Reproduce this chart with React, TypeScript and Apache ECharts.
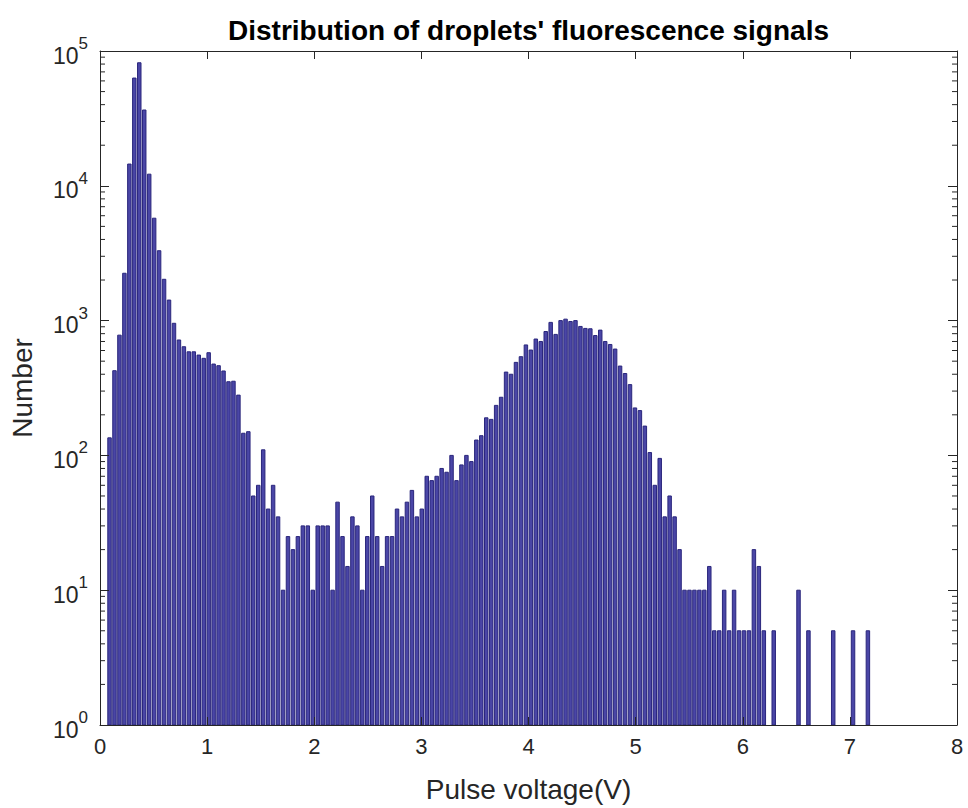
import React, { useEffect, useRef } from 'react';
import * as echarts from 'echarts';

// Histogram bins: center of the first bin and bin width (volts)
const BIN_START = 0.089;
const BIN_WIDTH = 0.04627;

// Counts per bin (154 bins)
const COUNTS = [
  135, 425, 780, 2245, 14500, 63000, 81800, 36500, 12200, 5750,
  3300, 2025, 1420, 955, 718, 640, 587, 587, 555, 525,
  578, 476, 463, 423, 352, 355, 280, 146, 150, 50,
  60, 110, 40, 60, 35, 10, 25, 20, 25, 30,
  30, 10, 30, 30, 30, 10, 45, 25, 15, 35,
  30, 10, 25, 50, 25, 15, 25, 25, 40, 35,
  45, 55, 35, 40, 70, 65, 70, 80, 75, 100,
  65, 85, 100, 90, 130, 140, 190, 185, 235, 270,
  415, 400, 490, 540, 660, 605, 730, 700, 830, 970,
  790, 1000, 1025, 985, 1000, 905, 875, 870, 775, 850,
  700, 665, 615, 460, 405, 335, 225, 215, 165, 105,
  60, 95, 35, 50, 35, 20, 10, 10, 10, 10,
  10, 15, 5, 5, 10, 5, 10, 5, 5, 5,
  20, 15, 5, 0, 5, 0, 0, 0, 0, 10,
  0, 5, 0, 0, 0, 0, 5, 0, 0, 0,
  5, 0, 0, 5,
];

const X_MIN = 0;
const X_MAX = 8;
const X_INTERVAL = 1;
const Y_MIN = 1;
const Y_MAX = 100000;
const DECADES = [1, 10, 100, 1000, 10000];
const MINOR_MULTIPLIERS = [2, 3, 4, 5, 6, 7, 8, 9];

const TITLE = "Distribution of droplets' fluorescence signals";
const X_NAME = 'Pulse voltage(V)';
const Y_NAME = 'Number';

const FONT = '"Liberation Sans", Arial, Helvetica, sans-serif';
const AXIS_COLOR = '#262626';
const BAR_FILL = '#4a46a6';
const BAR_EDGE = '#2a267c';

export default function App() {
  const ref = useRef<HTMLDivElement>(null);

  useEffect(() => {
    if (!ref.current) return;
    const chart = echarts.init(ref.current, undefined, { renderer: 'svg' });

    const barData = COUNTS.map((c, i) => [BIN_START + i * BIN_WIDTH, c]).filter((d) => d[1] > 0);
    const minorData: number[][] = [];
    DECADES.forEach((d) => MINOR_MULTIPLIERS.forEach((m) => minorData.push([X_MIN, d * m])));

    const option: any = {
      animation: false,
      backgroundColor: '#ffffff',
      grid: { left: 100, right: 11, top: 51, bottom: 83, containLabel: false },
      xAxis: [
        {
          type: 'value',
          min: X_MIN,
          max: X_MAX,
          interval: X_INTERVAL,
          z: 5,
          axisLine: { show: true, onZero: false, lineStyle: { color: AXIS_COLOR, width: 1 } },
          axisTick: { show: true, inside: true, length: 8, lineStyle: { color: AXIS_COLOR } },
          splitLine: { show: false },
          axisLabel: { fontSize: 22, color: AXIS_COLOR, fontFamily: FONT, margin: 10 },
          name: X_NAME,
          nameLocation: 'middle',
          nameGap: 50,
          nameTextStyle: { fontSize: 28, color: AXIS_COLOR, fontFamily: FONT },
        },
        {
          type: 'value',
          position: 'top',
          min: X_MIN,
          max: X_MAX,
          interval: X_INTERVAL,
          z: 5,
          axisLine: { show: true, onZero: false, lineStyle: { color: AXIS_COLOR, width: 1 } },
          axisTick: { show: true, inside: true, length: 8, lineStyle: { color: AXIS_COLOR } },
          splitLine: { show: false },
          axisLabel: { show: false },
          name: TITLE,
          nameLocation: 'middle',
          nameGap: 7,
          nameTextStyle: { fontSize: 28, fontWeight: 'bold', color: '#000000', fontFamily: FONT },
        },
      ],
      yAxis: [
        {
          type: 'log',
          logBase: 10,
          min: Y_MIN,
          max: Y_MAX,
          splitNumber: 5,
          z: 5,
          axisLine: { show: true, onZero: false, lineStyle: { color: AXIS_COLOR, width: 1 } },
          axisTick: { show: true, inside: true, length: 9, lineStyle: { color: AXIS_COLOR } },
          splitLine: { show: false },
          axisLabel: {
            margin: 12,
            formatter: (v: number) => `{b|10}{s|${Math.round(Math.log10(v))}}`,
            rich: {
              b: { fontSize: 23, color: AXIS_COLOR, fontFamily: FONT, verticalAlign: 'bottom', padding: [9, 0, 0, 0] },
              s: { fontSize: 17, color: AXIS_COLOR, fontFamily: FONT, verticalAlign: 'top' },
            },
          },
          name: Y_NAME,
          nameLocation: 'middle',
          nameGap: 64,
          nameRotate: 90,
          nameTextStyle: { fontSize: 28, color: AXIS_COLOR, fontFamily: FONT },
        },
        {
          type: 'log',
          logBase: 10,
          position: 'right',
          min: Y_MIN,
          max: Y_MAX,
          splitNumber: 5,
          z: 5,
          axisLine: { show: true, onZero: false, lineStyle: { color: AXIS_COLOR, width: 1 } },
          axisTick: { show: true, inside: true, length: 9, lineStyle: { color: AXIS_COLOR } },
          splitLine: { show: false },
          axisLabel: { show: false },
        },
      ],
      series: [
        {
          type: 'custom',
          xAxisIndex: 0,
          yAxisIndex: 0,
          data: barData,
          z: 2,
          renderItem: (params: any, api: any) => {
            const x = api.value(0);
            const y = api.value(1);
            const top = api.coord([x, y]);
            const base = api.coord([x, Y_MIN]);
            const step = api.coord([x + BIN_WIDTH, y])[0] - top[0];
            const w = step * 0.7;
            return {
              type: 'rect',
              shape: { x: top[0] - w / 2, y: top[1], width: w, height: base[1] - top[1] },
              style: { fill: BAR_FILL, stroke: BAR_EDGE, lineWidth: 1 },
            };
          },
        },
        {
          type: 'custom',
          xAxisIndex: 0,
          yAxisIndex: 0,
          data: minorData,
          silent: true,
          z: 6,
          renderItem: (params: any, api: any) => {
            const v = api.value(1);
            const l = api.coord([X_MIN, v]);
            const r = api.coord([X_MAX, v]);
            return {
              type: 'group',
              children: [
                { type: 'line', shape: { x1: l[0], y1: l[1], x2: l[0] + 5, y2: l[1] }, style: { stroke: AXIS_COLOR, lineWidth: 1 } },
                { type: 'line', shape: { x1: r[0], y1: r[1], x2: r[0] - 5, y2: r[1] }, style: { stroke: AXIS_COLOR, lineWidth: 1 } },
              ],
            };
          },
        },
      ],
    };

    chart.setOption(option);
    return () => chart.dispose();
  }, []);

  return (
    <div
      ref={ref}
      style={{ position: 'absolute', left: 0, top: 0, width: 968, height: 808, background: '#fff' }}
    />
  );
}
